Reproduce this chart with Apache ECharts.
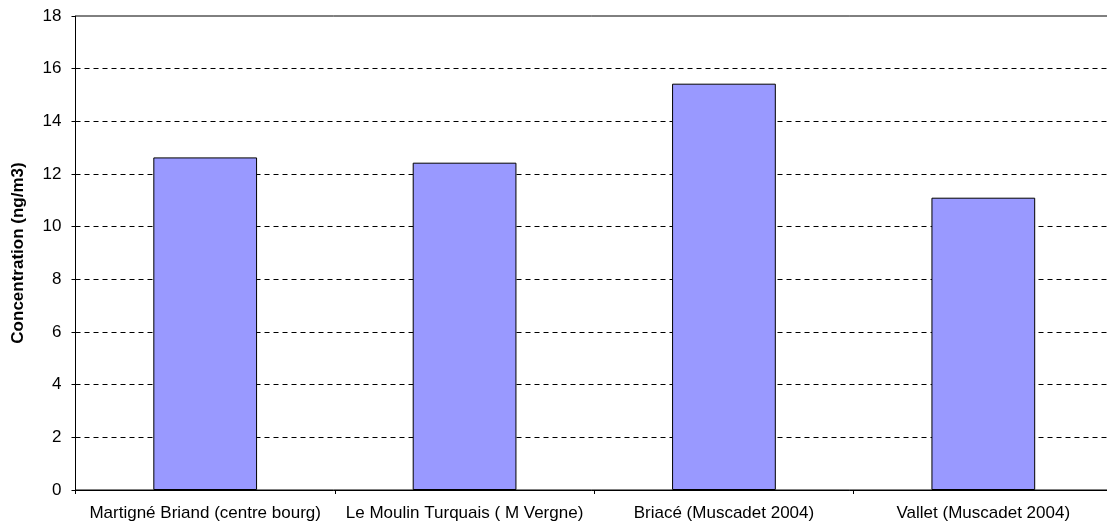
<!DOCTYPE html>
<html>
<head>
<meta charset="utf-8">
<script src="https://cdn.jsdelivr.net/npm/echarts@6/dist/echarts.min.js"></script>
<style>
  html, body { margin: 0; padding: 0; background: #ffffff; }
  #chart { width: 1107px; height: 528px; }
</style>
</head>
<body>
<div id="chart"></div>
<script>
// Sampling sites and measured concentrations (ng/m3)
const sites = [
  'Martigné Briand (centre bourg)',
  'Le Moulin Turquais ( M Vergne)',
  'Briacé (Muscadet 2004)',
  'Vallet (Muscadet 2004)'
];
const concentrations = [12.63, 12.43, 15.43, 11.10];
const yAxisTitle = 'Concentration (ng/m3)';

const FONT = '"Liberation Sans", Arial, sans-serif';

const chart = echarts.init(document.getElementById('chart'), null, { renderer: 'canvas' });

chart.setOption({
  animation: false,
  backgroundColor: '#ffffff',
  grid: {
    left: 75.5,
    top: 16,
    bottom: 38,
    right: -6,
    outerBoundsMode: 'none',
    containLabel: false,
    show: true,
    borderColor: '#000000',
    borderWidth: 1,
    backgroundColor: 'transparent'
  },
  xAxis: {
    type: 'category',
    data: sites,
    axisLine: { lineStyle: { color: '#000000', width: 1 } },
    axisTick: { show: true, length: 4, alignWithLabel: false, lineStyle: { color: '#000000' } },
    axisLabel: { color: '#000000', fontFamily: FONT, fontSize: 17, margin: 15, interval: 0 },
    splitLine: { show: false }
  },
  yAxis: {
    type: 'value',
    min: 0,
    max: 18,
    interval: 2,
    name: yAxisTitle,
    nameLocation: 'middle',
    nameGap: 49,
    nameTextStyle: { color: '#000000', fontFamily: FONT, fontSize: 17, fontWeight: 'bold' },
    axisLine: { show: true, lineStyle: { color: '#000000', width: 1 } },
    axisTick: { show: true, length: 4, lineStyle: { color: '#000000' } },
    axisLabel: { color: '#000000', fontFamily: FONT, fontSize: 17, margin: 14 },
    splitLine: {
      show: true,
      showMinLine: false,
      showMaxLine: false,
      lineStyle: { color: '#000000', width: 1, type: [5, 4] }
    }
  },
  series: [{
    type: 'bar',
    data: concentrations,
    barWidth: '40%',
    itemStyle: { color: '#9999FF', borderColor: '#000000', borderWidth: 1 }
  }]
});
</script>
</body>
</html>
